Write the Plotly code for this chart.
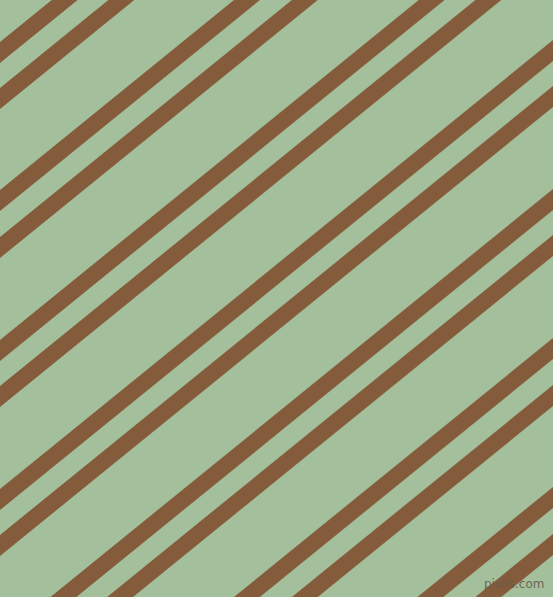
import plotly.graph_objects as go

# stripe pattern: pairs of brown bands on a sage background
# left-edge (x=0) intercept of the top side of each band, in px
band_offsets = [42, 88, 190, 237, 340, 386, 489, 535, 638, 684, 787, 834, 936, 983]
band_slope = 0.812      # rise per px going right
band_height = 21        # vertical thickness of one band

W, H = 553, 597
bg_color = "#A3BF9B"
band_color = "#845C3C"

fig = go.Figure()

x0, x1 = -20, W + 20
for c in band_offsets:
    xs = [x0, x1, x1, x0, x0]
    ys = [c - band_slope * x0, c - band_slope * x1,
          c + band_height - band_slope * x1, c + band_height - band_slope * x0,
          c - band_slope * x0]
    fig.add_trace(go.Scatter(x=xs, y=ys, mode="lines", fill="toself",
                             fillcolor=band_color, line=dict(width=0),
                             hoverinfo="skip", showlegend=False))

fig.add_annotation(x=1, y=0, xref="paper", yref="paper", xanchor="right", yanchor="bottom",
                   xshift=-7, yshift=4, text="pixlis.com", showarrow=False,
                   font=dict(family="DejaVu Sans", size=12, color="rgba(105,88,75,0.9)"))

fig.update_layout(
    width=W, height=H,
    margin=dict(l=0, r=0, t=0, b=0),
    paper_bgcolor=bg_color, plot_bgcolor=bg_color,
    xaxis=dict(range=[0, W], visible=False, fixedrange=True),
    yaxis=dict(range=[H, 0], visible=False, fixedrange=True),
)

# drop the default page margin so the figure fills the window
fig.write_html("out.html", config={"displayModeBar": False},
               post_script="document.body.style.margin='0';document.body.style.overflow='hidden';")
